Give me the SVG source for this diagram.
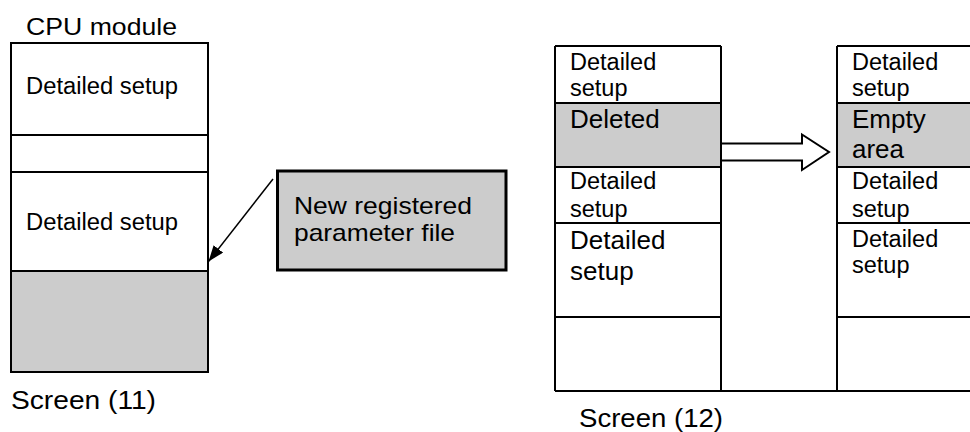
<svg xmlns="http://www.w3.org/2000/svg" width="970" height="432" viewBox="0 0 970 432">
<style>
text{font-family:"Liberation Sans",Arial,sans-serif;fill:#000}
.ln{stroke:#000;stroke-width:2;fill:none}
.gray{fill:#cccccc}
</style>
<defs>
<marker id="ah" markerWidth="16" markerHeight="12" refX="16" refY="6" orient="auto" markerUnits="userSpaceOnUse" viewBox="0 0 16 12">
<path d="M0,0 L16,6 L0,12 z" fill="#000"/>
</marker>
</defs>
<rect width="970" height="432" fill="#fff"/>

<g id="cpu-module">
<text x="26" y="35" font-size="24" textLength="151" lengthAdjust="spacingAndGlyphs">CPU module</text>
<rect class="gray" x="11" y="271" width="197" height="101"/>
<rect class="ln" x="11" y="43" width="197" height="329"/>
<line class="ln" x1="11" y1="135" x2="208" y2="135"/>
<line class="ln" x1="11" y1="172" x2="208" y2="172"/>
<line class="ln" x1="11" y1="271" x2="208" y2="271"/>
<text x="26" y="94" font-size="23.5" textLength="152" lengthAdjust="spacingAndGlyphs">Detailed setup</text>
<text x="26" y="230" font-size="23.5" textLength="152" lengthAdjust="spacingAndGlyphs">Detailed setup</text>
<text x="11" y="409" font-size="26.5" textLength="145" lengthAdjust="spacingAndGlyphs">Screen (11)</text>
</g>

<g id="new-param-file">
<rect class="gray" x="277.5" y="171" width="228.5" height="99" stroke="#000" stroke-width="3"/>
<text x="294" y="214" font-size="24" textLength="178" lengthAdjust="spacingAndGlyphs">New registered</text>
<text x="294" y="241" font-size="24" textLength="161" lengthAdjust="spacingAndGlyphs">parameter file</text>
</g>

<g id="before-column">
<rect class="gray" x="555" y="103" width="166" height="64"/>
<line class="ln" x1="555" y1="46" x2="721" y2="46"/>
<line class="ln" x1="555" y1="46" x2="555" y2="391"/>
<line class="ln" x1="721" y1="46" x2="721" y2="391"/>
<line class="ln" x1="555" y1="103" x2="721" y2="103"/>
<line class="ln" x1="555" y1="167" x2="721" y2="167"/>
<line class="ln" x1="555" y1="223" x2="721" y2="223"/>
<line class="ln" x1="555" y1="317" x2="721" y2="317"/>
<text x="570" y="70" font-size="23.5">Detailed</text>
<text x="570" y="96" font-size="23.5">setup</text>
<text x="570" y="128" font-size="26">Deleted</text>
<text x="570" y="189" font-size="23.5">Detailed</text>
<text x="570" y="217" font-size="23.5">setup</text>
<text x="570" y="249" font-size="26">Detailed</text>
<text x="570" y="280" font-size="26">setup</text>
</g>

<g id="after-column">
<rect class="gray" x="837" y="103" width="133" height="64"/>
<line class="ln" x1="837" y1="46" x2="970" y2="46"/>
<line class="ln" x1="837" y1="46" x2="837" y2="391"/>
<line class="ln" x1="837" y1="103" x2="970" y2="103"/>
<line class="ln" x1="837" y1="167" x2="970" y2="167"/>
<line class="ln" x1="837" y1="223" x2="970" y2="223"/>
<line class="ln" x1="837" y1="317" x2="970" y2="317"/>
<text x="852" y="70" font-size="23.5">Detailed</text>
<text x="852" y="96" font-size="23.5">setup</text>
<text x="852" y="128" font-size="26">Empty</text>
<text x="852" y="158" font-size="26">area</text>
<text x="852" y="189" font-size="23.5">Detailed</text>
<text x="852" y="217" font-size="23.5">setup</text>
<text x="852" y="247" font-size="23.5">Detailed</text>
<text x="852" y="273" font-size="23.5">setup</text>
</g>

<g id="screen12-label">
<line class="ln" x1="555" y1="391" x2="970" y2="391"/>
<text x="579" y="427" font-size="26.5" textLength="144" lengthAdjust="spacingAndGlyphs">Screen (12)</text>
</g>

<g id="connectors">
<line x1="273" y1="179" x2="208.5" y2="261.5" stroke="#000" stroke-width="1.5" marker-end="url(#ah)"/>
<path d="M722,143.5 H802 V134.5 L829,152 L802,170 V160.5 H722" fill="#fff" stroke="#000" stroke-width="2"/>
</g>
</svg>
